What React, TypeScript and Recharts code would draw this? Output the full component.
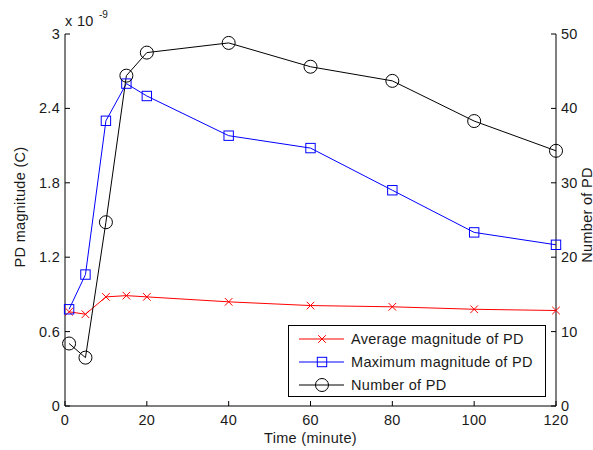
import React from 'react';
import { ComposedChart, Line, XAxis, YAxis, Legend } from 'recharts';

const times = [1, 5, 10, 15, 20, 40, 60, 80, 100, 120];
const avgMag = [0.76, 0.74, 0.88, 0.89, 0.88, 0.84, 0.81, 0.8, 0.78, 0.77];
const maxMag = [0.78, 1.06, 2.3, 2.6, 2.5, 2.18, 2.08, 1.74, 1.4, 1.3];
const pdCount = [8.4, 6.5, 24.7, 44.4, 47.5, 48.8, 45.6, 43.7, 38.3, 34.3];

const xTicks = [0, 20, 40, 60, 80, 100, 120];
const leftTicks = [0, 0.6, 1.2, 1.8, 2.4, 3];
const leftTickLabels = ['0', '0.6', '1.2', '1.8', '2.4', '3'];
const rightTicks = [0, 10, 20, 30, 40, 50];

const seriesNames = ['Average magnitude of PD', 'Maximum magnitude of PD', 'Number of PD'];
const seriesColors = ['#ff0000', '#0000ff', '#000000'];

const data = times.map((t, i) => ({ t, avg: avgMag[i], max: maxMag[i], num: pdCount[i] }));

const FONT = '"Liberation Sans", Arial, Helvetica, sans-serif';
const TXT = '#1a1a1a';
const FS = 14.5;
const LS = 0.3;

const CrossDot = (p: any) => {
  const { cx, cy, stroke } = p;
  const s = 3.8;
  return (
    <g key={`c${p.index}`}>
      <line x1={cx - s} y1={cy - s} x2={cx + s} y2={cy + s} stroke={stroke} strokeWidth={1} />
      <line x1={cx - s} y1={cy + s} x2={cx + s} y2={cy - s} stroke={stroke} strokeWidth={1} />
    </g>
  );
};
const SquareDot = (p: any) => {
  const { cx, cy, stroke } = p;
  const s = 4.7;
  return <rect key={`s${p.index}`} x={cx - s} y={cy - s} width={2 * s} height={2 * s} fill="none" stroke={stroke} strokeWidth={1} />;
};
const CircleDot = (p: any) => {
  const { cx, cy, stroke } = p;
  return <circle key={`o${p.index}`} cx={cx} cy={cy} r={6.5} fill="none" stroke={stroke} strokeWidth={1} />;
};
const markers = [CrossDot, SquareDot, CircleDot];

const LeftTick = (p: any) => {
  const { x, y, index } = p;
  return (
    <g>
      <line x1={x} y1={y} x2={x + 5} y2={y} stroke="#000" />
      <text x={x - 5} y={y + 5} textAnchor="end" fontFamily={FONT} fontSize={FS} letterSpacing={LS} fill={TXT}>
        {leftTickLabels[index]}
      </text>
    </g>
  );
};
const RightTick = (p: any) => {
  const { x, y, payload } = p;
  return (
    <g>
      <line x1={x} y1={y} x2={x - 5} y2={y} stroke="#000" />
      <text x={x + 5} y={y + 5} textAnchor="start" fontFamily={FONT} fontSize={FS} letterSpacing={LS} fill={TXT}>
        {payload.value}
      </text>
    </g>
  );
};
const BottomTick = (p: any) => {
  const { x, y, payload } = p;
  return (
    <g>
      <line x1={x} y1={y} x2={x} y2={y - 5} stroke="#000" />
      <text x={x} y={y + 19} textAnchor="middle" fontFamily={FONT} fontSize={FS} letterSpacing={LS} fill={TXT}>
        {payload.value}
      </text>
    </g>
  );
};
const TopTick = (p: any) => {
  const { x, y } = p;
  return <line x1={x} y1={y} x2={x} y2={y + 5} stroke="#000" />;
};

const LegendBox = () => (
  <div style={{ width: 256, height: 70, border: '1px solid #000', background: '#fff' }}>
    <svg width={256} height={70}>
      {seriesNames.map((name, i) => {
        const cy = 13 + i * 23;
        const M = markers[i];
        return (
          <g key={name}>
            <line x1={10} y1={cy} x2={55} y2={cy} stroke={seriesColors[i]} strokeWidth={1} />
            <M cx={33} cy={cy} stroke={seriesColors[i]} index={i} />
            <text x={62} y={cy + 5} fontFamily={FONT} fontSize={FS} letterSpacing={LS} fill={TXT}>
              {name}
            </text>
          </g>
        );
      })}
    </svg>
  </div>
);

export default function App() {
  return (
    <div style={{ position: 'absolute', left: 0, top: 0, width: 593, height: 450, background: '#fff' }}>
      <ComposedChart width={593} height={450} data={data} margin={{ top: 34, right: 0, bottom: 0, left: 0 }}>
        <XAxis
          dataKey="t"
          type="number"
          domain={[0, 120]}
          ticks={xTicks}
          height={44}
          tickSize={0}
          tickMargin={0}
          tick={<BottomTick />}
          axisLine={{ stroke: '#000' }}
          tickLine={false}
          interval={0}
          label={{
            value: 'Time (minute)',
            content: (lp: any) => {
              const vb = lp.viewBox;
              return (
                <text x={vb.x + vb.width / 2} y={vb.y + 37} textAnchor="middle" fontFamily={FONT} fontSize={FS} letterSpacing={LS} fill={TXT}>
                  Time (minute)
                </text>
              );
            },
          }}
        />
        <XAxis
          xAxisId="top"
          orientation="top"
          dataKey="t"
          type="number"
          domain={[0, 120]}
          ticks={xTicks}
          height={0}
          tickSize={0}
          tickMargin={0}
          tick={<TopTick />}
          axisLine={{ stroke: '#000' }}
          tickLine={false}
          interval={0}
        />
        <YAxis
          yAxisId="left"
          orientation="left"
          type="number"
          domain={[0, 3]}
          ticks={leftTicks}
          width={65}
          tickSize={0}
          tickMargin={0}
          tick={<LeftTick />}
          axisLine={{ stroke: '#000' }}
          tickLine={false}
          interval={0}
          label={{
            value: 'PD magnitude (C)',
            content: (lp: any) => {
              const vb = lp.viewBox;
              const cx = vb.x + 20;
              const cy = vb.y + vb.height / 2 - 13;
              return (
                <g>
                  <text x={cx} y={cy} transform={`rotate(-90 ${cx} ${cy})`} textAnchor="middle" dominantBaseline="central" fontFamily={FONT} fontSize={FS} letterSpacing={LS} fill={TXT}>
                    PD magnitude (C)
                  </text>
                  <text x={vb.x + vb.width} y={vb.y - 8} fontFamily={FONT} fontSize={FS} letterSpacing={LS} fill={TXT}>
                    x 10
                  </text>
                  <text x={vb.x + vb.width + 34} y={vb.y - 16} fontFamily={FONT} fontSize={10} fill={TXT}>
                    -9
                  </text>
                </g>
              );
            },
          }}
        />
        <YAxis
          yAxisId="right"
          orientation="right"
          type="number"
          domain={[0, 50]}
          ticks={rightTicks}
          width={37}
          tickSize={0}
          tickMargin={0}
          tick={<RightTick />}
          axisLine={{ stroke: '#000' }}
          tickLine={false}
          interval={0}
          label={{
            value: 'Number of PD',
            content: (lp: any) => {
              const vb = lp.viewBox;
              const cx = vb.x + 31;
              const cy = vb.y + vb.height / 2 - 5;
              return (
                <text x={cx} y={cy} transform={`rotate(-90 ${cx} ${cy})`} textAnchor="middle" dominantBaseline="central" fontFamily={FONT} fontSize={FS} letterSpacing={LS} fill={TXT}>
                  Number of PD
                </text>
              );
            },
          }}
        />
        <Legend
          layout="horizontal"
          verticalAlign="middle"
          align="center"
          content={() => <LegendBox />}
          wrapperStyle={{ left: 288, top: 325, width: 258, height: 72 }}
        />
        <Line yAxisId="left" dataKey="avg" name={seriesNames[0]} stroke={seriesColors[0]} strokeWidth={1} dot={(p: any) => <CrossDot key={`a${p.index}`} {...p} stroke={seriesColors[0]} />} activeDot={false} isAnimationActive={false} />
        <Line yAxisId="left" dataKey="max" name={seriesNames[1]} stroke={seriesColors[1]} strokeWidth={1} dot={(p: any) => <SquareDot key={`m${p.index}`} {...p} stroke={seriesColors[1]} />} activeDot={false} isAnimationActive={false} />
        <Line yAxisId="right" dataKey="num" name={seriesNames[2]} stroke={seriesColors[2]} strokeWidth={1} dot={(p: any) => <CircleDot key={`n${p.index}`} {...p} stroke={seriesColors[2]} />} activeDot={false} isAnimationActive={false} />
      </ComposedChart>
    </div>
  );
}
